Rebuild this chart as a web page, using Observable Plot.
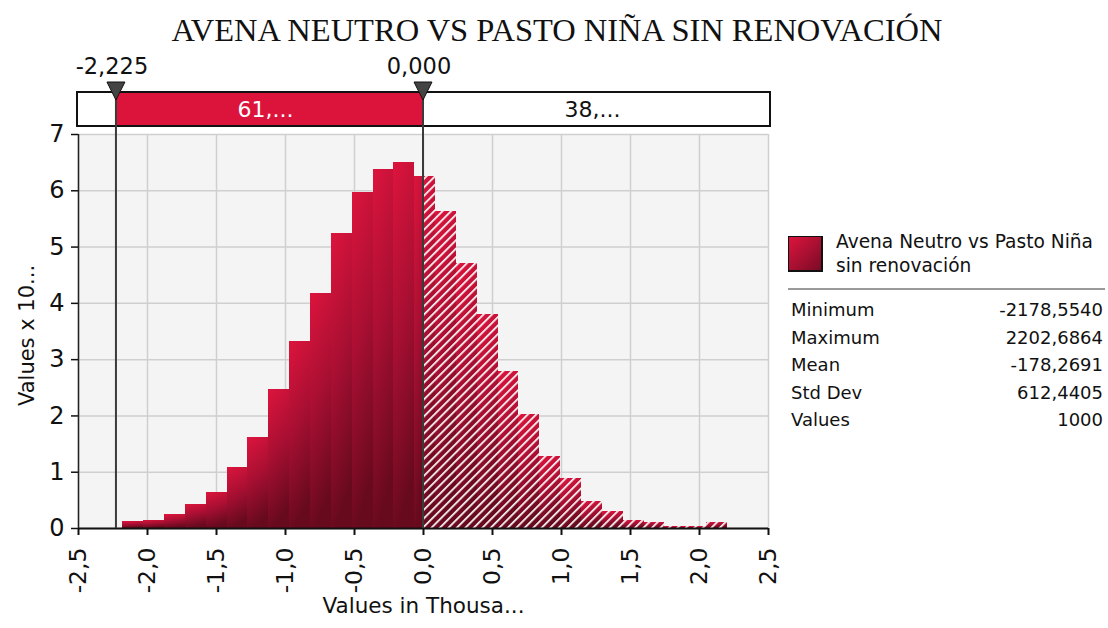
<!DOCTYPE html>
<html>
<head>
<meta charset="utf-8">
<script src="https://cdn.jsdelivr.net/npm/d3@7"></script>
<script src="https://cdn.jsdelivr.net/npm/@observablehq/plot@0.6"></script>
<style>
  body { margin: 0; background: #fff; }
  #wrap { position: relative; width: 1108px; height: 628px; overflow: hidden; font-family: "DejaVu Sans", sans-serif; color: #111; }
  #title { position: absolute; left: 0; top: 11px; width: 1114px; text-align: center; font-family: "Liberation Serif", "Times New Roman", serif; font-size: 32.5px; line-height: 38px; color: #111; }
  #chart { position: absolute; left: 0; top: 50px; }
  #legend { position: absolute; left: 788px; top: 230px; width: 318px; font-size: 18px; }
  #swatch { position: absolute; left: 0; top: 6px; width: 32px; height: 33px; background: linear-gradient(135deg, #dc143c 0%, #a10f30 60%, #7a0b24 100%); border: 1px solid #111; border-right-width: 2px; border-bottom-width: 2px; }
  #series { position: absolute; left: 48px; top: 0; line-height: 24px; font-size: 18.6px; }
  #sep { position: absolute; left: 0; top: 58px; width: 317px; height: 2px; background: #9a9a9a; }
  #stats { position: absolute; left: 3px; top: 66px; width: 312px; }
  .row { display: flex; justify-content: space-between; height: 27.5px; line-height: 27.5px; }
</style>
</head>
<body>
<div id="wrap">
  <div id="title"></div>
  <div id="chart"></div>
  <div id="legend">
    <div id="swatch"></div>
    <div id="series"></div>
    <div id="sep"></div>
    <div id="stats"></div>
  </div>
</div>
<script>
// ---------------- data ----------------
const chartTitle = "AVENA NEUTRO VS PASTO NIÑA SIN RENOVACIÓN";
const seriesName = ["Avena Neutro vs Pasto Niña", "sin renovación"];
const xLabel = "Values in Thousa...";
const yLabel = "Values x 10...";

// summary statistics (raw values)
const statLabels = ["Minimum", "Maximum", "Mean", "Std Dev", "Values"];
const statValues = ["-2178,5540", "2202,6864", "-178,2691", "612,4405", "1000"];
const dataMin = -2178.5540;
const dataMax = 2202.6864;

// histogram bar heights (Values x 10^-4), 29 bins from min to max
const barHeights = [
  0.12, 0.15, 0.24, 0.43, 0.645, 1.09, 1.62, 2.47, 3.32, 4.18,
  5.24, 5.97, 6.38, 6.50, 6.25, 5.63, 4.71, 3.80, 2.79, 2.03,
  1.28, 0.89, 0.485, 0.30, 0.14, 0.11, 0.03, 0.03, 0.11
];

// delimiters (thousands) and band percentages
const delimiters = [-2.225, 0.0];
const bandLabels = ["61,...", "38,..."];

// axis ticks
const xTicks = [-2.5, -2.0, -1.5, -1.0, -0.5, 0.0, 0.5, 1.0, 1.5, 2.0, 2.5];
const yTicks = [0, 1, 2, 3, 4, 5, 6, 7];

// ---------------- build ----------------
const loc = d3.formatLocale({decimal: ",", thousands: ".", grouping: [3], currency: ["", ""], minus: "-"});
const fmt1 = loc.format(".1f");
const fmt3 = loc.format(".3f");

const nBins = barHeights.length;
const lo = dataMin / 1000, hi = dataMax / 1000;
const step = (hi - lo) / nBins;
const bins = barHeights.map((h, i) => ({x1: lo + i * step, x2: lo + (i + 1) * step, h}));
const cut = delimiters[1];
const solid = bins.filter(b => b.x1 < cut).map(b => ({x1: b.x1, x2: Math.min(b.x2, cut), h: b.h}));
const hatched = bins.filter(b => b.x2 > cut).map(b => ({x1: Math.max(b.x1, cut), x2: b.x2, h: b.h}));

function defsMark() {
  const g = d3.create("svg:g");
  const defs = g.append("defs");
  const lg = defs.append("linearGradient").attr("id", "barGrad")
    .attr("x1", 0).attr("y1", 0).attr("x2", 0.2).attr("y2", 1);
  lg.append("stop").attr("offset", "0%").attr("stop-color", "#dd143d");
  lg.append("stop").attr("offset", "50%").attr("stop-color", "#a80f32");
  lg.append("stop").attr("offset", "100%").attr("stop-color", "#680a1e");
  const pat = defs.append("pattern").attr("id", "hatch")
    .attr("patternUnits", "userSpaceOnUse").attr("width", 6).attr("height", 6)
    .attr("patternTransform", "rotate(45)");
  pat.append("rect").attr("x", 0).attr("y", 0).attr("width", 1.7).attr("height", 6).attr("fill", "#fff");
  return g.node();
}

function bandMark(index, scales, values, dimensions) {
  const x = scales.x;
  const g = d3.create("svg:g");
  const top = dimensions.marginTop - 42, h = 34;
  const left = x(-2.5) - 1, right = x(2.5) + 2;
  const xa = x(delimiters[0]), xb = x(delimiters[1]);
  const yBottom = dimensions.height - dimensions.marginBottom;
  g.append("rect").attr("x", left).attr("y", top).attr("width", right - left).attr("height", h)
    .attr("fill", "#fff");
  g.append("rect").attr("x", xa).attr("y", top).attr("width", xb - xa).attr("height", h)
    .attr("fill", "#dc143c");
  g.append("rect").attr("x", left).attr("y", top).attr("width", right - left).attr("height", h)
    .attr("fill", "none").attr("stroke", "#111").attr("stroke-width", 2);
  g.append("text").attr("x", (xa + xb) / 2 - 4).attr("y", top + h / 2).attr("dy", "0.36em")
    .attr("text-anchor", "middle").attr("fill", "#fff").attr("font-size", 22).text(bandLabels[0]);
  g.append("text").attr("x", (xb + right) / 2 - 4).attr("y", top + h / 2).attr("dy", "0.36em")
    .attr("text-anchor", "middle").attr("fill", "#111").attr("font-size", 22).text(bandLabels[1]);
  delimiters.forEach(d => {
    const xd = x(d);
    g.append("line").attr("x1", xd).attr("x2", xd).attr("y1", top).attr("y2", yBottom)
      .attr("stroke", "#3a3a3a").attr("stroke-width", 2);
    g.append("path").attr("d", `M${xd - 9},${top - 10}L${xd + 9},${top - 10}L${xd},${top + 8}Z`)
      .attr("fill", "#444").attr("stroke", "#111").attr("stroke-width", 1);
    g.append("text").attr("x", xd - 4).attr("y", top - 26).attr("dy", "0.36em")
      .attr("text-anchor", "middle").attr("fill", "#111").attr("font-size", 22.5).text(fmt3(d));
  });
  return g.node();
}

const plot = Plot.plot({
  width: 1108,
  height: 578,
  marginLeft: 78,
  marginRight: 340,
  marginTop: 84,
  marginBottom: 100,
  style: {fontFamily: "DejaVu Sans, sans-serif", background: "transparent", color: "#111"},
  x: {domain: [-2.5, 2.5]},
  y: {domain: [0, 7]},
  marks: [
    defsMark,
    Plot.frame({fill: "#f4f4f4", stroke: null}),
    Plot.gridX(xTicks, {stroke: "#cfcfcf", strokeOpacity: 1, strokeWidth: 1.5}),
    Plot.gridY(yTicks, {stroke: "#cfcfcf", strokeOpacity: 1, strokeWidth: 1.5}),
    Plot.rect(solid, {x1: "x1", x2: "x2", y1: 0, y2: "h", fill: "url(#barGrad)", inset: 0, shapeRendering: "crispEdges"}),
    Plot.rect(hatched, {x1: "x1", x2: "x2", y1: 0, y2: "h", fill: "url(#barGrad)", inset: 0, shapeRendering: "crispEdges"}),
    Plot.rect(hatched, {x1: "x1", x2: "x2", y1: 0, y2: "h", fill: "url(#hatch)", inset: 0, shapeRendering: "crispEdges"}),
    Plot.axisX(xTicks, {tickFormat: fmt1, tickRotate: -90, fontSize: 23.5, tickSize: 7, tickPadding: 12, stroke: "#111", strokeWidth: 2, label: null}),
    Plot.axisY(yTicks, {tickFormat: d => String(d), fontSize: 24, tickSize: 7, tickPadding: 7, stroke: "#111", strokeWidth: 1.5, label: null}),
    Plot.ruleY([0], {stroke: "#111", strokeWidth: 2}),
    Plot.ruleX([-2.5], {stroke: "#222", strokeWidth: 1.5}),
    bandMark,
    Plot.text([xLabel], {text: d => d, frameAnchor: "bottom", dy: 84, fontSize: 21.5, fill: "#111"}),
    Plot.text([yLabel], {text: d => d, frameAnchor: "left", textAnchor: "middle", dx: -51, dy: 4, rotate: -90, fontSize: 21, fill: "#111"})
  ]
});
document.getElementById("chart").appendChild(plot);

document.getElementById("title").textContent = chartTitle;
document.getElementById("series").innerHTML = seriesName.map(s => `<div>${s}</div>`).join("");
document.getElementById("stats").innerHTML = statLabels.map((l, i) =>
  `<div class="row"><span>${l}</span><span>${statValues[i]}</span></div>`).join("");
</script>
</body>
</html>
